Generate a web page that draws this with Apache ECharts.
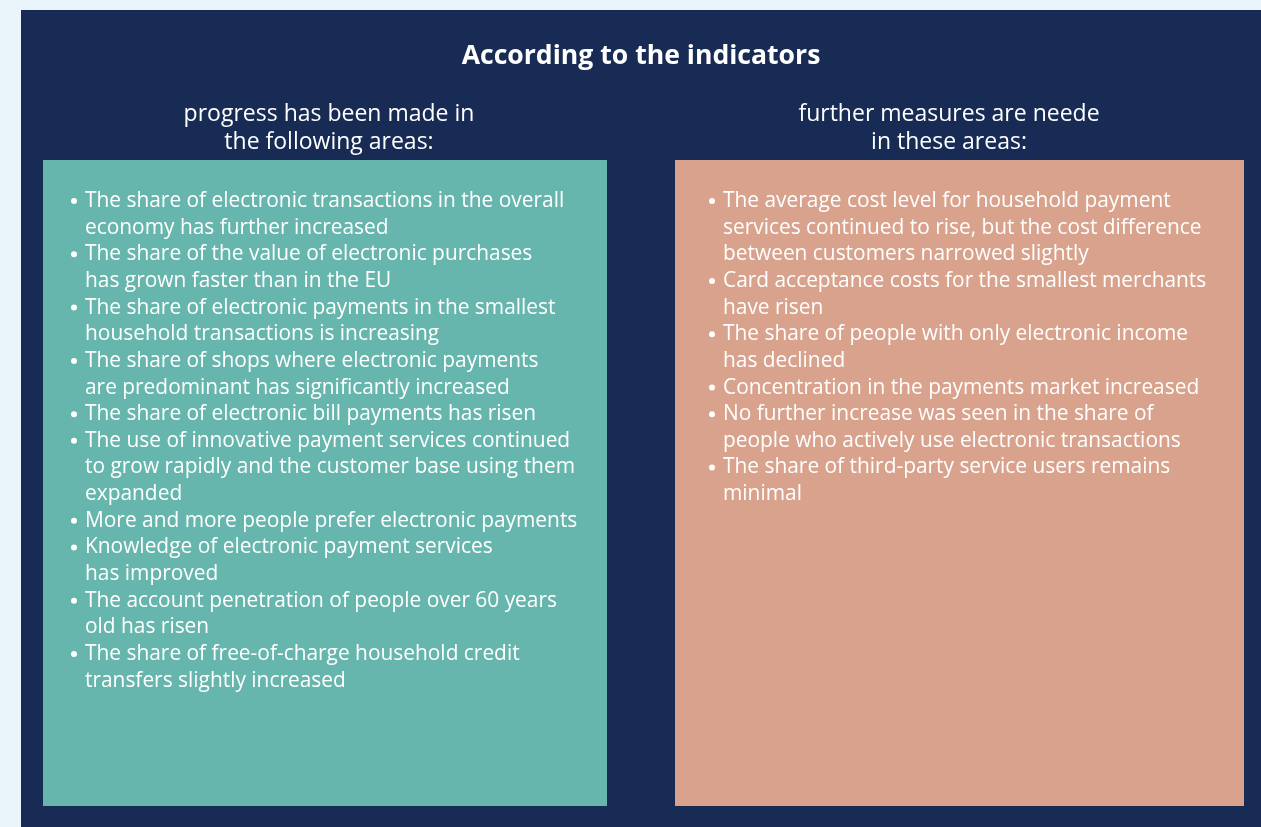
<!DOCTYPE html>
<html>
<head>
<meta charset="utf-8">
<title>According to the indicators</title>
<script src="https://cdn.jsdelivr.net/npm/echarts@6/dist/echarts.min.js"></script>
<style>
  html, body { margin: 0; padding: 0; background: #e9f4fb; }
  #main { width: 1261px; height: 827px; }
</style>
</head>
<body>
<div id="main"></div>
<script>
// texts of the infographic
const title = 'According to the indicators'
const leftHeading = ['progress has been made in', 'the following areas:']
const rightHeading = ['further measures are neede', 'in these areas:']

// each bullet is a list of its wrapped lines
const leftItems = [
  ['The share of electronic transactions in the overall', 'economy has further increased'],
  ['The share of the value of electronic purchases', 'has grown faster than in the EU'],
  ['The share of electronic payments in the smallest', 'household transactions is increasing'],
  ['The share of shops where electronic payments', 'are predominant has significantly increased'],
  ['The share of electronic bill payments has risen'],
  ['The use of innovative payment services continued', 'to grow rapidly and the customer base using them', 'expanded'],
  ['More and more people prefer electronic payments'],
  ['Knowledge of electronic payment services', 'has improved'],
  ['The account penetration of people over 60 years', 'old has risen'],
  ['The share of free-of-charge household credit', 'transfers slightly increased']
]

const rightItems = [
  ['The average cost level for household payment', 'services continued to rise, but the cost difference', 'between customers narrowed slightly'],
  ['Card acceptance costs for the smallest merchants', 'have risen'],
  ['The share of people with only electronic income', 'has declined'],
  ['Concentration in the payments market increased'],
  ['No further increase was seen in the share of', 'people who actively use electronic transactions'],
  ['The share of third-party service users remains', 'minimal']
]

const font = '"Open Sans", Lato, sans-serif'
const lineH = 26.65

// build text elements for one column of bullets
const bulletList = (items, x, y0) => {
  const out = []
  let row = 0
  items.forEach((lines) => {
    lines.forEach((line, i) => {
      const y = y0 + row * lineH
      if (i === 0) {
        out.push({
          type: 'circle',
          shape: { cx: x - 11, cy: y, r: 3 },
          style: { fill: '#ffffff' }
        })
      }
      out.push({
        type: 'text',
        x: x,
        y: y,
        style: {
          text: line,
          fill: '#ffffff',
          font: '20.9px ' + font,
          textVerticalAlign: 'middle'
        }
      })
      row++
    })
  })
  return out
}

const heading = (lines, cx) => lines.map((line, i) => ({
  type: 'text',
  x: cx,
  y: 114 + i * 28,
  style: {
    text: line,
    fill: '#ffffff',
    font: '23px ' + font,
    textAlign: 'center',
    textVerticalAlign: 'middle'
  }
}))

const chart = echarts.init(document.getElementById('main'))

chart.setOption({
  backgroundColor: '#e9f4fb',
  animation: false,
  graphic: [
    { type: 'rect', shape: { x: 21, y: 10, width: 1240, height: 817 }, style: { fill: '#182b54' } },
    { type: 'rect', shape: { x: 43, y: 160, width: 564, height: 646 }, style: { fill: '#67b6ad' } },
    { type: 'rect', shape: { x: 675, y: 160, width: 569, height: 646 }, style: { fill: '#d8a28d' } },
    {
      type: 'text',
      x: 641,
      y: 56,
      style: {
        text: title,
        fill: '#ffffff',
        font: 'bold 26.6px ' + font,
        textAlign: 'center',
        textVerticalAlign: 'middle'
      }
    },
    ...heading(leftHeading, 329),
    ...heading(rightHeading, 949),
    ...bulletList(leftItems, 85, 201),
    ...bulletList(rightItems, 723, 201)
  ]
})
</script>
</body>
</html>
